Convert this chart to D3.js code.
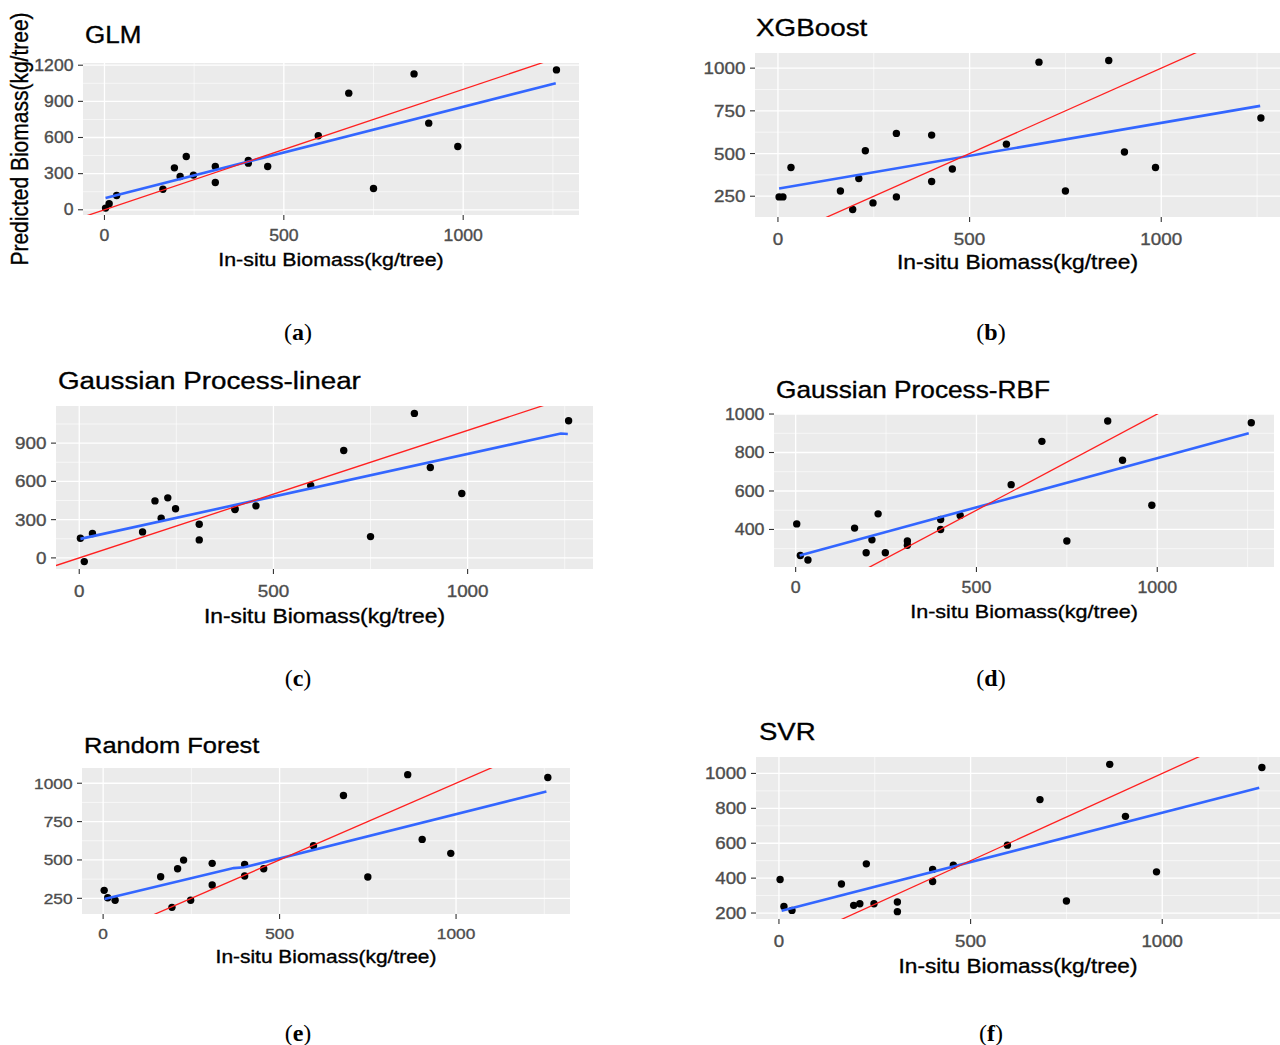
<!DOCTYPE html>
<html lang="en">
<head>
<meta charset="utf-8">
<title>biomass models</title>
<script src="https://d3js.org/d3.v7.min.js"></script>
<style>
body{margin:0;background:#fff;}
text{font-family:"Liberation Sans",Arial,sans-serif;}
</style>
</head>
<body>
<div id="chart1"></div>
<script>
// in-situ biomass of the 20 trees, same for every model
var insitu = [3, 13, 34, 163, 195, 211, 228, 248, 309, 309, 401, 401, 455, 596, 681, 750, 863, 904, 985, 1260]

// predicted biomass per model, same order as insitu
var glmPred = [14, 50, 119, 171, 348, 276, 442, 288, 359, 227, 409, 387, 359, 614, 968, 177, 1128, 719, 525, 1161]
var xgbPred = [246, 246, 418, 281, 172, 354, 516, 211, 618, 246, 608, 336, 409, 555, 1035, 281, 1045, 509, 418, 708]
var gplinPred = [154, -29, 191, 204, 447, 311, 471, 385, 264, 141, 385, 380, 408, 568, 842, 167, 1133, 709, 505, 1075]
var gprbfPred = [429, 265, 241, 407, 279, 346, 481, 279, 340, 318, 452, 400, 473, 633, 858, 340, 964, 760, 526, 955]
var rfPred = [302, 254, 237, 391, 191, 443, 499, 237, 478, 337, 471, 395, 443, 593, 920, 389, 1056, 634, 543, 1037]
var svrPred = [392, 238, 215, 366, 244, 253, 482, 253, 263, 208, 450, 381, 474, 589, 850, 269, 1052, 754, 436, 1034]

// blue fitted lines, [in-situ, predicted] vertices
var glmFit = [[3, 97], [1258, 1051]]
var xgbFit = [[3, 295], [1258, 779]]
var gplinFit = [[3, 149], [1240, 975], [1258, 972]]
var gprbfFit = [[11, 265], [1253, 900]]
var rfFit = [[4, 246], [370, 447], [400, 452], [1256, 946]]
var svrFit = [[7, 213], [1253, 918]]

// tick labels
var xTicks = [0, 500, 1000]
var glmTicks = [0, 300, 600, 900, 1200]
var xgbTicks = [250, 500, 750, 1000]
var gplinTicks = [0, 300, 600, 900]
var gprbfTicks = [400, 600, 800, 1000]
var rfTicks = [250, 500, 750, 1000]
var svrTicks = [200, 400, 600, 800, 1000]

var titles = ["GLM", "XGBoost", "Gaussian Process-linear", "Gaussian Process-RBF", "Random Forest", "SVR"]
var letters = ["a", "b", "c", "d", "e", "f"]
var xTitle = "In-situ Biomass(kg/tree)"
var yTitle = "Predicted Biomass(kg/tree)"

var preds = [glmPred, xgbPred, gplinPred, gprbfPred, rfPred, svrPred]
var fits = [glmFit, xgbFit, gplinFit, gprbfFit, rfFit, svrFit]
var yTickSets = [glmTicks, xgbTicks, gplinTicks, gprbfTicks, rfTicks, svrTicks]

// where each panel sits on the page, k = text scale of that sub picture
var layout = [
    {l: 83, r: 579, t: 63, b: 215, tx: 85, ty: 43, xt: 266, cx: 298, cy: 340, k: 1},
    {l: 755, r: 1285, t: 53, b: 217, tx: 756, ty: 36, xt: 269, cx: 991, cy: 340, k: 1.07},
    {l: 56, r: 593, t: 406, b: 569, tx: 58, ty: 389, xt: 623, cx: 298, cy: 686, k: 1.07},
    {l: 774, r: 1274, t: 414, b: 567, tx: 776, ty: 398, xt: 618, cx: 991, cy: 686, k: 1.01},
    {l: 82, r: 570, t: 768, b: 914, tx: 84, ty: 753, xt: 963, cx: 298, cy: 1041, k: 0.98},
    {l: 756, r: 1286, t: 757, b: 919, tx: 759, ty: 740, xt: 973, cx: 991, cy: 1041, k: 1.06}
]

var W = 1280, H = 1045
var stretch = 1.13

var svg = d3.select("#chart1").append("svg")
    .attr("width", W)
    .attr("height", H)

// ggplot style 5% padding
function pad(vals){
    var e = d3.extent(vals)
    var p = (e[1] - e[0]) * 0.05
    return [e[0] - p, e[1] + p]
}

// minor grid halfway between majors
function minors(ticks, dom){
    var step = ticks[1] - ticks[0]
    var out = [ticks[0] - step / 2]
    ticks.forEach(function(t){ out.push(t + step / 2) })
    return out.filter(function(v){ return v >= dom[0] && v <= dom[1] })
}

function stext(sel, x, y, str, size, anchor, col){
    return sel.append("text")
        .attr("transform", "translate(" + x + "," + y + ") scale(" + stretch + ",1)")
        .attr("text-anchor", anchor)
        .attr("font-size", size)
        .attr("fill", col)
        .attr("stroke", col)
        .attr("stroke-width", 0.35)
        .text(str)
}

preds.forEach(function(pred, k){
    var box = layout[k]
    var fit = fits[k]
    var yTicks = yTickSets[k]
    var xDom = pad(insitu.concat(fit.map(function(f){ return f[0] })))
    var yDom = pad(pred.concat(fit.map(function(f){ return f[1] })))
    var xScale = d3.scaleLinear().domain(xDom).range([box.l, box.r])
    var yScale = d3.scaleLinear().domain(yDom).range([box.b, box.t])

    var g = svg.append("g")

    g.append("clipPath").attr("id", "clip" + k)
        .append("rect")
        .attr("x", box.l).attr("y", box.t)
        .attr("width", box.r - box.l).attr("height", box.b - box.t)

    g.append("rect")
        .attr("x", box.l).attr("y", box.t)
        .attr("width", box.r - box.l).attr("height", box.b - box.t)
        .attr("fill", "#EBEBEB")

    // minor grid
    g.selectAll(".mx").data(minors(xTicks, xDom)).enter().append("line")
        .attr("x1", function(d){ return xScale(d) }).attr("x2", function(d){ return xScale(d) })
        .attr("y1", box.t).attr("y2", box.b)
        .attr("stroke", "#fff").attr("stroke-width", 0.6)
    g.selectAll(".my").data(minors(yTicks, yDom)).enter().append("line")
        .attr("y1", function(d){ return yScale(d) }).attr("y2", function(d){ return yScale(d) })
        .attr("x1", box.l).attr("x2", box.r)
        .attr("stroke", "#fff").attr("stroke-width", 0.6)

    // major grid
    g.selectAll(".gx").data(xTicks).enter().append("line")
        .attr("x1", function(d){ return xScale(d) }).attr("x2", function(d){ return xScale(d) })
        .attr("y1", box.t).attr("y2", box.b)
        .attr("stroke", "#fff").attr("stroke-width", 1.3)
    g.selectAll(".gy").data(yTicks).enter().append("line")
        .attr("y1", function(d){ return yScale(d) }).attr("y2", function(d){ return yScale(d) })
        .attr("x1", box.l).attr("x2", box.r)
        .attr("stroke", "#fff").attr("stroke-width", 1.3)

    var plot = g.append("g").attr("clip-path", "url(#clip" + k + ")")

    plot.selectAll("circle").data(pred).enter().append("circle")
        .attr("cx", function(d, i){ return xScale(insitu[i]) })
        .attr("cy", function(d){ return yScale(d) })
        .attr("r", 3.7)
        .attr("fill", "#000")

    plot.append("path")
        .datum(fit)
        .attr("d", d3.line().x(function(d){ return xScale(d[0]) }).y(function(d){ return yScale(d[1]) }))
        .attr("fill", "none")
        .attr("stroke", "#3366FF")
        .attr("stroke-width", 2.6)

    // 1:1 line
    plot.append("line")
        .attr("x1", xScale(xDom[0])).attr("y1", yScale(xDom[0]))
        .attr("x2", xScale(xDom[1])).attr("y2", yScale(xDom[1]))
        .attr("stroke", "#FF2020")
        .attr("stroke-width", 1.3)

    // ticks
    g.selectAll(".tx").data(xTicks).enter().append("line")
        .attr("x1", function(d){ return xScale(d) }).attr("x2", function(d){ return xScale(d) })
        .attr("y1", box.b).attr("y2", box.b + 5)
        .attr("stroke", "#333").attr("stroke-width", 1.1)
    g.selectAll(".ty").data(yTicks).enter().append("line")
        .attr("y1", function(d){ return yScale(d) }).attr("y2", function(d){ return yScale(d) })
        .attr("x1", box.l - 5).attr("x2", box.l)
        .attr("stroke", "#333").attr("stroke-width", 1.1)

    var ts = 15.6 * box.k
    xTicks.forEach(function(v){
        stext(g, xScale(v), box.b + 26 * box.k, v, ts, "middle", "#4D4D4D")
    })
    yTicks.forEach(function(v){
        stext(g, box.l - 9.5, yScale(v) + 5.6 * box.k, v, ts, "end", "#4D4D4D")
    })

    stext(g, box.tx, box.ty, titles[k], 23 * box.k, "start", "#000")
    stext(g, (box.l + Math.min(box.r, W)) / 2, box.xt, xTitle, 18.9 * box.k, "middle", "#000")

    var cap = g.append("text")
        .attr("x", box.cx).attr("y", box.cy)
        .attr("text-anchor", "middle")
        .attr("font-size", 24)
        .style("font-family", "'Liberation Serif','Times New Roman',serif")
    cap.append("tspan").text("(")
    cap.append("tspan").attr("font-weight", "bold").text(letters[k])
    cap.append("tspan").text(")")
})

// only the first panel carries the y title
svg.append("text")
    .attr("transform", "translate(28,139) scale(" + stretch + ",1) rotate(-90)")
    .attr("text-anchor", "middle")
    .attr("font-size", 21)
    .attr("fill", "#000")
    .attr("stroke", "#000")
    .attr("stroke-width", 0.3)
    .text(yTitle)
</script>
</body>
</html>
